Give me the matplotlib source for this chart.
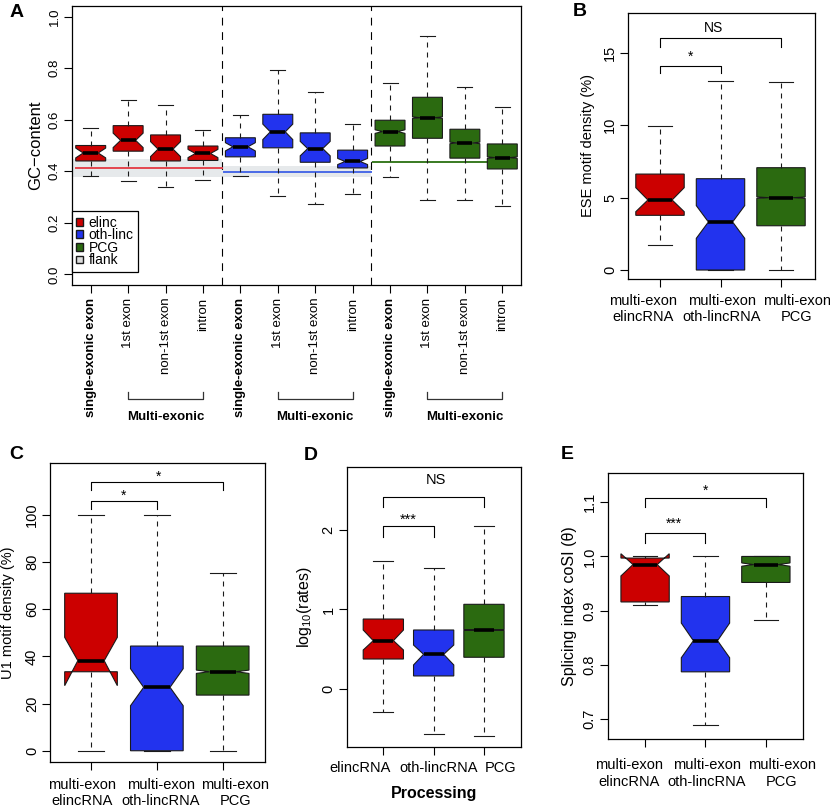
import numpy as np
import matplotlib
matplotlib.use("Agg")
import matplotlib.pyplot as plt
from matplotlib.patches import Patch
from matplotlib.transforms import ScaledTranslation

plt.rcParams['font.family'] = ['Liberation Sans', 'DejaVu Sans']
plt.rcParams['mathtext.default'] = 'regular'
plt.rcParams['axes.linewidth'] = 0.9

RED = '#cc0000'
BLUE = '#2233ee'
GREEN = '#2b6a10'
EDGE = '#1a1a1a'
COLS = [RED, BLUE, GREEN]

#%% panel A : GC content
a_labels = ['single-exonic exon', '1st exon', 'non-1st exon', 'intron'] * 3
a_med = [0.471, 0.520, 0.486, 0.469, 0.495, 0.553, 0.488, 0.438, 0.554, 0.608, 0.510, 0.453]
a_q1 = [0.440, 0.478, 0.440, 0.442, 0.456, 0.491, 0.435, 0.413, 0.498, 0.528, 0.451, 0.409]
a_q3 = [0.500, 0.577, 0.541, 0.498, 0.530, 0.621, 0.549, 0.482, 0.598, 0.687, 0.563, 0.506]
a_lo = [0.382, 0.363, 0.340, 0.366, 0.381, 0.303, 0.274, 0.311, 0.378, 0.287, 0.287, 0.266]
a_hi = [0.568, 0.676, 0.657, 0.562, 0.617, 0.791, 0.709, 0.585, 0.741, 0.924, 0.726, 0.648]
a_notch = [0.019, 0.028, 0.029, 0.016, 0.016, 0.030, 0.028, 0.012, 0.007, 0.003, 0.003, 0.003]
a_flank_mid = [0.411, 0.398, 0.436]
a_flank_lo = [0.376, 0.378, 0.431]
a_flank_hi = [0.446, 0.420, 0.441]
a_legend = ['elinc', 'oth-linc', 'PCG', 'flank']

#%% panel B : ESE motif density
bce_labels = ['multi-exon\nelincRNA', 'multi-exon\noth-lincRNA', 'multi-exon\nPCG']
b_med = [4.84, 3.32, 5.00]
b_q1 = [3.78, 0.00, 3.06]
b_q3 = [6.63, 6.31, 7.07]
b_lo = [1.75, 0.00, 0.00]
b_hi = [9.95, 13.08, 13.01]
b_cilo = [4.03, 2.19, 4.95]
b_cihi = [5.69, 4.45, 5.05]

#%% panel C : U1 motif density
c_med = [38.2, 26.9, 33.5]
c_q1 = [33.5, 0.0, 23.6]
c_q3 = [66.8, 44.4, 44.4]
c_lo = [0.0, 0.0, 0.0]
c_hi = [100.0, 100.0, 75.5]
c_cilo = [27.6, 19.1, 32.8]
c_cihi = [48.1, 34.8, 34.2]

#%% panel D : processing rates
d_labels = ['elincRNA', 'oth-lincRNA', 'PCG']
d_med = [0.608, 0.436, 0.742]
d_q1 = [0.377, 0.164, 0.399]
d_q3 = [0.880, 0.742, 1.065]
d_lo = [-0.285, -0.570, -0.590]
d_hi = [1.614, 1.518, 2.054]
d_cilo = [0.490, 0.302, 0.737]
d_cihi = [0.742, 0.553, 0.747]

#%% panel E : splicing index
e_med = [0.985, 0.8445, 0.985]
e_q1 = [0.916, 0.787, 0.952]
e_q3 = [0.997, 0.926, 1.000]
e_lo = [0.910, 0.689, 0.883]
e_hi = [1.000, 1.000, 1.000]
e_cilo = [0.964, 0.813, 0.982]
e_cihi = [1.005, 0.877, 0.988]

# significance brackets: (x1, x2, top, leg, text, text_x, text_y)
b_sig = [(1, 3, 16.01, 15.43, 'NS', 1.88, 16.72), (1, 2, 14.12, 13.59, '*', 1.51, 14.75)]
c_sig = [(1, 3, 114.1, 110.6, '*', 2.02, 116.1), (1, 2, 106.1, 102.7, '*', 1.49, 108.3)]
d_sig = [(1, 3, 2.419, 2.285, 'NS', 2.05, 2.63), (1, 2, 2.054, 1.916, '***', 1.5, 2.13)]
e_sig = [(1, 3, 1.1083, 1.0906, '*', 2.0, 1.122), (1, 2, 1.0437, 1.0253, '***', 1.48, 1.061)]

W, H = 830, 808
fig = plt.figure(figsize=(W / 100, H / 100), dpi=100)


def px_axes(l, t, r, b):
    return fig.add_axes([l / W, 1 - b / H, (r - l) / W, (b - t) / H])


def boxes(ax, med, q1, q3, lo, hi, cilo, cihi, colors, positions):
    stats = []
    for i in range(len(med)):
        stats.append(dict(med=med[i], q1=q1[i], q3=q3[i], whislo=lo[i], whishi=hi[i],
                          cilo=cilo[i], cihi=cihi[i], fliers=[]))
    bp = ax.bxp(stats, positions=positions, widths=0.8, shownotches=True,
                patch_artist=True, showfliers=False, manage_ticks=False,
                boxprops=dict(edgecolor=EDGE, linewidth=0.8),
                whiskerprops=dict(color=EDGE, linewidth=0.8, linestyle=(0, (4.5, 4.5))),
                capprops=dict(color=EDGE, linewidth=0.8),
                medianprops=dict(color='black', linewidth=2.6, solid_capstyle='butt'),
                zorder=3)
    for patch, c in zip(bp['boxes'], colors):
        patch.set_facecolor(c)
    return bp


def brackets(ax, sig, fs):
    for x1, x2, top, leg, txt, tx, ty in sig:
        ax.plot([x1, x1, x2, x2], [leg, top, top, leg], color='black', lw=0.8,
                clip_on=False, zorder=4)
        ax.text(tx, ty, txt, ha='center', va='center', fontsize=fs)


def style(ax, fs):
    ax.tick_params(direction='out', length=6, width=0.8, labelsize=fs)
    ax.tick_params(axis='y', labelrotation=90, pad=2)
    for t in ax.get_yticklabels():
        t.set_va('center')


def spread(ax, offsets_px):
    # labels are wider than the tick spacing, so they are pushed apart
    for t, dx in zip(ax.get_xticklabels(), offsets_px):
        t.set_transform(t.get_transform() + ScaledTranslation(dx / 100, 0, fig.dpi_scale_trans))


#%% A
axA = px_axes(72, 6, 521, 285)
pos = np.arange(1, 13)
spans = [(0.5, 4.5), (4.5, 8.5), (8.5, 12.0)]
line_cols = ['#e3454e', '#4a6ae6', '#3a7a22']
for k in range(3):
    x0, x1 = spans[k]
    axA.fill_between([x0, x1], a_flank_lo[k], a_flank_hi[k], color='#e6e9eb', lw=0, zorder=1)
    axA.plot([x0 + (0.12 if k == 0 else 0.05), x1], [a_flank_mid[k]] * 2, color=line_cols[k],
             lw=1.4, zorder=2)
cols12 = [RED] * 4 + [BLUE] * 4 + [GREEN] * 4
a_cilo = [m - n for m, n in zip(a_med, a_notch)]
a_cihi = [m + n for m, n in zip(a_med, a_notch)]
boxes(axA, a_med, a_q1, a_q3, a_lo, a_hi, a_cilo, a_cihi, cols12, pos)
for xv in [4.5, 8.5]:
    axA.axvline(xv, color='black', lw=0.8, ls=(0, (7, 6)), zorder=1)
axA.set_xlim(0.5, 12.5)
axA.set_ylim(-0.041, 1.041)
axA.set_yticks(np.arange(0, 1.01, 0.2), ['0.0', '0.2', '0.4', '0.6', '0.8', '1.0'])
axA.set_xticks(pos, a_labels, rotation=90)
style(axA, 9.5)
axA.tick_params(axis='x', pad=3)
for t, s in zip(axA.get_xticklabels(), a_labels):
    if s.startswith('single'):
        t.set_fontweight('bold')
axA.set_ylabel('GC\u2212content', fontsize=12, va='center')
axA.yaxis.set_label_coords(-0.082, 0.5)
tr = axA.get_xaxis_transform()
for x1, x2 in [(2, 4), (6, 8), (10, 12)]:
    axA.plot([x1, x1, x2, x2], [-0.382, -0.409, -0.409, -0.382], color='#333333', lw=0.9,
             transform=tr, clip_on=False)
    axA.text((x1 + x2) / 2, -0.472, 'Multi-exonic', transform=tr, ha='center', va='center',
             fontsize=9.5, fontweight='bold')
handles = [Patch(facecolor=c, edgecolor=EDGE, label=l)
           for c, l in zip(COLS + ['#dddddd'], a_legend)]
leg = axA.legend(handles=handles, loc='lower left', bbox_to_anchor=(0, 0.048),
                 borderaxespad=0, fancybox=False, edgecolor='black', framealpha=1,
                 handlelength=0.5, handleheight=0.5, handletextpad=0.4,
                 labelspacing=-0.1, borderpad=0.3, fontsize=10)
leg.get_frame().set_linewidth(0.9)

#%% B
axB = px_axes(628.3, 12.7, 815, 279)
boxes(axB, b_med, b_q1, b_q3, b_lo, b_hi, b_cilo, b_cihi, COLS, [1, 2, 3])
brackets(axB, b_sig, 10)
axB.set_xlim(0.476, 3.562)
axB.set_ylim(-0.62, 17.78)
axB.set_yticks([0, 5, 10, 15])
axB.set_xticks([1, 2, 3], bce_labels)
style(axB, 10.5)
axB.tick_params(axis='x', pad=5)
spread(axB, [-16.5, 1.5, 16])
axB.set_ylabel('ESE motif density (%)', fontsize=10.5, va='center')
axB.yaxis.set_label_coords(-0.214, 0.5)

#%% C
axC = px_axes(50, 463.3, 265, 762.3)
boxes(axC, c_med, c_q1, c_q3, c_lo, c_hi, c_cilo, c_cihi, COLS, [1, 2, 3])
brackets(axC, c_sig, 10)
axC.set_xlim(0.377, 3.643)
axC.set_ylim(-4.9, 121.9)
axC.set_yticks(np.arange(0, 101, 20))
axC.set_xticks([1, 2, 3], bce_labels)
style(axC, 10.5)
axC.tick_params(axis='x', pad=5)
spread(axC, [-9.3, 4, 12.5])
axC.set_ylabel('U1 motif density (%)', fontsize=10.5, va='center')
axC.yaxis.set_label_coords(-0.195, 0.5)

#%% D
axD = px_axes(346.7, 466.7, 520.7, 746.7)
boxes(axD, d_med, d_q1, d_q3, d_lo, d_hi, d_cilo, d_cihi, COLS, [1, 2, 3])
brackets(axD, d_sig, 10.5)
axD.set_xlim(0.272, 3.73)
axD.set_ylim(-0.726, 2.796)
axD.set_yticks([0, 1, 2])
axD.set_xticks([1, 2, 3], d_labels)
style(axD, 10.5)
axD.tick_params(axis='x', pad=4)
spread(axD, [-23, 5, 17])
axD.set_ylabel('log$_{10}$(rates)', fontsize=11.5, va='center')
axD.yaxis.set_label_coords(-0.24, 0.5)
axD.set_xlabel('Processing', fontsize=11.5, fontweight='bold', labelpad=8)

#%% E
axE = px_axes(607.7, 472.7, 803.3, 739)
boxes(axE, e_med, e_q1, e_q3, e_lo, e_hi, e_cilo, e_cihi, COLS, [1, 2, 3])
brackets(axE, e_sig, 10)
axE.set_xlim(0.381, 3.62)
axE.set_ylim(0.663, 1.1546)
axE.set_yticks([0.7, 0.8, 0.9, 1.0, 1.1])
axE.set_xticks([1, 2, 3], bce_labels)
style(axE, 10.5)
axE.tick_params(axis='x', pad=8)
spread(axE, [-16.3, 1.6, 16])
axE.set_ylabel('Splicing index coSI (\u03b8)', fontsize=11.5, va='center')
axE.yaxis.set_label_coords(-0.193, 0.5)

#%% panel letters
for lab, x, y in [('A', 16.5, 12.5), ('B', 580, 12), ('C', 16.5, 455),
                  ('D', 310.5, 455.5), ('E', 567.5, 455)]:
    fig.text(x / W, 1 - y / H, lab, fontsize=14, fontweight='bold', ha='center', va='center')

fig.savefig('out.png', dpi=100)
